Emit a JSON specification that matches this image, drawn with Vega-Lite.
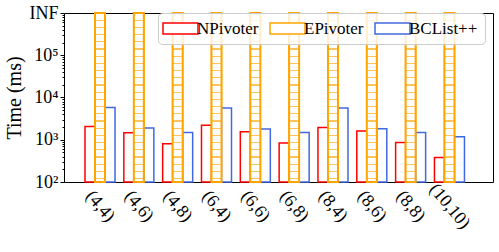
{
  "$schema": "https://vega.github.io/schema/vega-lite/v6.json",
  "width": 429,
  "height": 169,
  "autosize": {"type": "none"},
  "padding": {"left": 64, "top": 13, "right": 6, "bottom": 70},
  "config": {"view": {"stroke": "black", "strokeWidth": 1}, "font": "Liberation Serif"},
  "data": {
    "values": [
      {"cat": "(4,4)", "series": "NPivoter", "value": 2070},
      {"cat": "(4,4)", "series": "EPivoter", "value": 1000000},
      {"cat": "(4,4)", "series": "BCList++", "value": 5830},
      {"cat": "(4,6)", "series": "NPivoter", "value": 1470},
      {"cat": "(4,6)", "series": "EPivoter", "value": 1000000},
      {"cat": "(4,6)", "series": "BCList++", "value": 1900},
      {"cat": "(4,8)", "series": "NPivoter", "value": 806},
      {"cat": "(4,8)", "series": "EPivoter", "value": 1000000},
      {"cat": "(4,8)", "series": "BCList++", "value": 1490},
      {"cat": "(6,4)", "series": "NPivoter", "value": 2190},
      {"cat": "(6,4)", "series": "EPivoter", "value": 1000000},
      {"cat": "(6,4)", "series": "BCList++", "value": 5640},
      {"cat": "(6,6)", "series": "NPivoter", "value": 1550},
      {"cat": "(6,6)", "series": "EPivoter", "value": 1000000},
      {"cat": "(6,6)", "series": "BCList++", "value": 1800},
      {"cat": "(6,8)", "series": "NPivoter", "value": 837},
      {"cat": "(6,8)", "series": "EPivoter", "value": 1000000},
      {"cat": "(6,8)", "series": "BCList++", "value": 1490},
      {"cat": "(8,4)", "series": "NPivoter", "value": 1960},
      {"cat": "(8,4)", "series": "EPivoter", "value": 1000000},
      {"cat": "(8,4)", "series": "BCList++", "value": 5640},
      {"cat": "(8,6)", "series": "NPivoter", "value": 1610},
      {"cat": "(8,6)", "series": "EPivoter", "value": 1000000},
      {"cat": "(8,6)", "series": "BCList++", "value": 1830},
      {"cat": "(8,8)", "series": "NPivoter", "value": 865},
      {"cat": "(8,8)", "series": "EPivoter", "value": 1000000},
      {"cat": "(8,8)", "series": "BCList++", "value": 1490},
      {"cat": "(10,10)", "series": "NPivoter", "value": 382},
      {"cat": "(10,10)", "series": "EPivoter", "value": 1000000},
      {"cat": "(10,10)", "series": "BCList++", "value": 1180}
    ]
  },
  "encoding": {
    "x": {
      "field": "cat", "type": "nominal",
      "sort": ["(4,4)", "(4,6)", "(4,8)", "(6,4)", "(6,6)", "(6,8)", "(8,4)", "(8,6)", "(8,8)", "(10,10)"],
      "scale": {"paddingInner": 0.227, "paddingOuter": 0.638, "align": 0.424},
      "axis": {"title": null, "labelAngle": 50, "labelAlign": "center", "labelBaseline": "middle", "labelPadding": 24, "ticks": false, "domain": false, "grid": false, "labelFont": "Liberation Serif", "labelFontSize": 18, "labelColor": "black"}
    },
    "xOffset": {"field": "series", "type": "nominal", "scale": {"domain": ["NPivoter", "EPivoter", "BCList++"], "paddingInner": 0, "paddingOuter": 0}},
    "y2": {"datum": 100}
  },
  "layer": [
    {
      "mark": {"type": "bar", "fill": "white", "strokeWidth": 1.5},
      "encoding": {
        "y": {
          "field": "value", "type": "quantitative",
          "scale": {"type": "log", "domain": [100, 1000000], "nice": false},
          "axis": {"title": "Time (ms)", "values": [100, 1000, 10000, 100000, 1000000],
            "labelExpr": "datum.value >= 1000000 ? 'INF' : datum.value >= 100000 ? '10⁵' : datum.value >= 10000 ? '10⁴' : datum.value >= 1000 ? '10³' : '10²'",
            "tickSize": 4, "tickColor": "black", "domain": false, "grid": false, "labelFlush": false, "labelOverlap": false,
            "labelFont": "Liberation Serif", "labelFontSize": 18, "labelColor": "black", "labelPadding": 2,
            "titleFont": "Liberation Serif", "titleFontSize": 20, "titleFontWeight": "normal", "titleColor": "black", "titlePadding": 4}
        },
        "stroke": {
          "field": "series", "type": "nominal",
          "scale": {"domain": ["NPivoter", "EPivoter", "BCList++"], "range": ["#ff0000", "#ffa500", "#4169e1"]},
          "legend": {"title": null, "orient": "none", "legendX": 94, "legendY": 0, "direction": "horizontal", "padding": 7,
            "fillColor": "rgba(255,255,255,0.8)", "strokeColor": "#cccccc", "cornerRadius": 4,
            "symbolType": "M-3.18,-1H3.18V1H-3.18Z", "symbolSize": 121, "symbolOffset": 7, "symbolStrokeWidth": 1.5, "symbolFillColor": "white",
            "labelFont": "Liberation Serif", "labelFontSize": 17, "labelColor": "black", "labelOffset": 8, "columnPadding": 8}
        }
      }
    },
    {
      "transform": [{"filter": "datum.series === 'EPivoter'"}],
      "mark": {"type": "bar", "stroke": "#ffa500", "strokeWidth": 2,
        "fill": {"gradient": "linear", "x1": 0, "y1": 0, "x2": 0, "y2": 1, "stops": [
          {"offset": 0, "color": "white"},
          {"offset": 0.0391, "color": "white"}, {"offset": 0.0391, "color": "#ffc55c"}, {"offset": 0.0461, "color": "#ffc55c"}, {"offset": 0.0461, "color": "white"},
          {"offset": 0.0817, "color": "white"}, {"offset": 0.0817, "color": "#ffc55c"}, {"offset": 0.0887, "color": "#ffc55c"}, {"offset": 0.0887, "color": "white"},
          {"offset": 0.1243, "color": "white"}, {"offset": 0.1243, "color": "#ffc55c"}, {"offset": 0.1313, "color": "#ffc55c"}, {"offset": 0.1313, "color": "white"},
          {"offset": 0.1669, "color": "white"}, {"offset": 0.1669, "color": "#ffc55c"}, {"offset": 0.1739, "color": "#ffc55c"}, {"offset": 0.1739, "color": "white"},
          {"offset": 0.2095, "color": "white"}, {"offset": 0.2095, "color": "#ffc55c"}, {"offset": 0.2165, "color": "#ffc55c"}, {"offset": 0.2165, "color": "white"},
          {"offset": 0.2521, "color": "white"}, {"offset": 0.2521, "color": "#ffc55c"}, {"offset": 0.2591, "color": "#ffc55c"}, {"offset": 0.2591, "color": "white"},
          {"offset": 0.2947, "color": "white"}, {"offset": 0.2947, "color": "#ffc55c"}, {"offset": 0.3017, "color": "#ffc55c"}, {"offset": 0.3017, "color": "white"},
          {"offset": 0.3373, "color": "white"}, {"offset": 0.3373, "color": "#ffc55c"}, {"offset": 0.3443, "color": "#ffc55c"}, {"offset": 0.3443, "color": "white"},
          {"offset": 0.3799, "color": "white"}, {"offset": 0.3799, "color": "#ffc55c"}, {"offset": 0.3869, "color": "#ffc55c"}, {"offset": 0.3869, "color": "white"},
          {"offset": 0.4225, "color": "white"}, {"offset": 0.4225, "color": "#ffc55c"}, {"offset": 0.4295, "color": "#ffc55c"}, {"offset": 0.4295, "color": "white"},
          {"offset": 0.4651, "color": "white"}, {"offset": 0.4651, "color": "#ffc55c"}, {"offset": 0.4721, "color": "#ffc55c"}, {"offset": 0.4721, "color": "white"},
          {"offset": 0.5077, "color": "white"}, {"offset": 0.5077, "color": "#ffc55c"}, {"offset": 0.5147, "color": "#ffc55c"}, {"offset": 0.5147, "color": "white"},
          {"offset": 0.5503, "color": "white"}, {"offset": 0.5503, "color": "#ffc55c"}, {"offset": 0.5573, "color": "#ffc55c"}, {"offset": 0.5573, "color": "white"},
          {"offset": 0.5929, "color": "white"}, {"offset": 0.5929, "color": "#ffc55c"}, {"offset": 0.5999, "color": "#ffc55c"}, {"offset": 0.5999, "color": "white"},
          {"offset": 0.6355, "color": "white"}, {"offset": 0.6355, "color": "#ffc55c"}, {"offset": 0.6425, "color": "#ffc55c"}, {"offset": 0.6425, "color": "white"},
          {"offset": 0.6781, "color": "white"}, {"offset": 0.6781, "color": "#ffc55c"}, {"offset": 0.6851, "color": "#ffc55c"}, {"offset": 0.6851, "color": "white"},
          {"offset": 0.7207, "color": "white"}, {"offset": 0.7207, "color": "#ffc55c"}, {"offset": 0.7277, "color": "#ffc55c"}, {"offset": 0.7277, "color": "white"},
          {"offset": 0.7633, "color": "white"}, {"offset": 0.7633, "color": "#ffc55c"}, {"offset": 0.7703, "color": "#ffc55c"}, {"offset": 0.7703, "color": "white"},
          {"offset": 0.8059, "color": "white"}, {"offset": 0.8059, "color": "#ffc55c"}, {"offset": 0.8129, "color": "#ffc55c"}, {"offset": 0.8129, "color": "white"},
          {"offset": 0.8485, "color": "white"}, {"offset": 0.8485, "color": "#ffc55c"}, {"offset": 0.8555, "color": "#ffc55c"}, {"offset": 0.8555, "color": "white"},
          {"offset": 0.8911, "color": "white"}, {"offset": 0.8911, "color": "#ffc55c"}, {"offset": 0.8981, "color": "#ffc55c"}, {"offset": 0.8981, "color": "white"},
          {"offset": 0.9337, "color": "white"}, {"offset": 0.9337, "color": "#ffc55c"}, {"offset": 0.9407, "color": "#ffc55c"}, {"offset": 0.9407, "color": "white"},
          {"offset": 0.9763, "color": "white"}, {"offset": 0.9763, "color": "#ffc55c"}, {"offset": 0.9833, "color": "#ffc55c"}, {"offset": 0.9833, "color": "white"},
          {"offset": 1, "color": "white"}
        ]}},
      "encoding": {
        "y": {"field": "value", "type": "quantitative", "scale": {"type": "log", "domain": [100, 1000000], "nice": false}, "axis": null}
      }
    },
    {
      "mark": {"type": "bar", "opacity": 0},
      "encoding": {
        "y": {"field": "value", "type": "quantitative", "scale": {"type": "log", "domain": [100, 1000000], "nice": false},
          "axis": {"orient": "left", "title": null, "labels": false, "domain": false, "grid": false, "tickSize": 2, "tickColor": "black",
            "values": [200, 300, 400, 500, 600, 700, 800, 900, 2000, 3000, 4000, 5000, 6000, 7000, 8000, 9000, 20000, 30000, 40000, 50000, 60000, 70000, 80000, 90000, 200000, 300000, 400000, 500000, 600000, 700000, 800000, 900000]}}
      }
    }
  ],
  "resolve": {"axis": {"y": "independent"}}
}
